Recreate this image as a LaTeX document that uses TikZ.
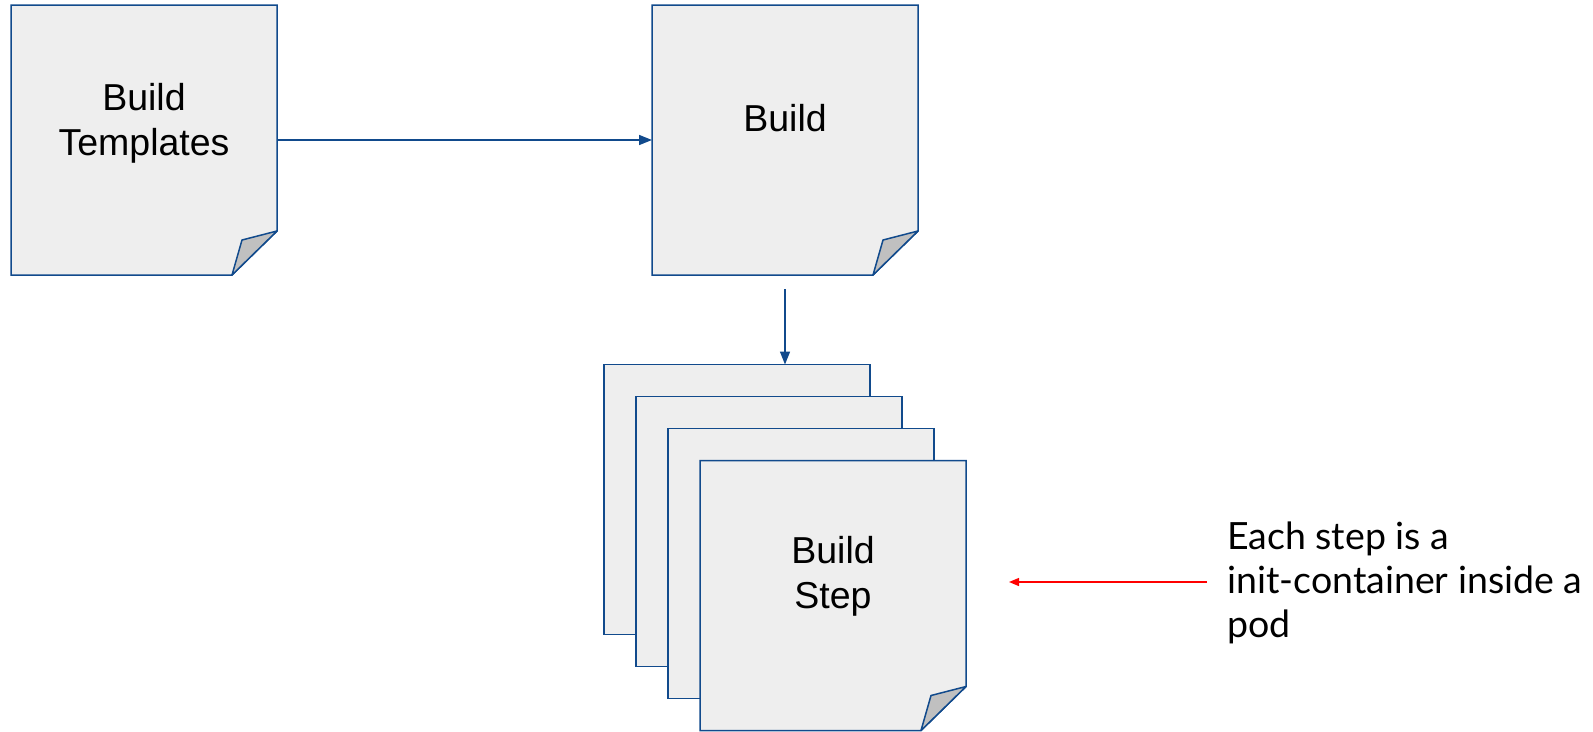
\documentclass[tikz,border=0pt]{standalone}
\usepackage{fontspec}
\setmainfont{Liberation Sans}
\newfontfamily\latofont{Lato}
\usetikzlibrary{arrows.meta,backgrounds,calc}
\definecolor{edgeblue}{RGB}{17,74,140}
\definecolor{paper}{RGB}{238,238,238}
\definecolor{foldgray}{RGB}{192,192,192}
\newcommand\dogear[1]{%
  \begin{pgfonlayer}{background}
  \path[outline] (#1.north west) -- (#1.north east) -- ([yshift=44pt]#1.south east) -- ([xshift=-45pt]#1.south east) -- (#1.south west) -- cycle;
  \path[foldst] ([yshift=44pt]#1.south east) -- ([xshift=-35pt,yshift=35pt]#1.south east) -- ([xshift=-45pt]#1.south east) -- cycle;
  \end{pgfonlayer}}
\newcommand\plainsheet[1]{%
  \begin{pgfonlayer}{background}
  \path[outline] (#1.north west) rectangle (#1.south east);
  \end{pgfonlayer}}
\begin{document}
\begin{tikzpicture}[x=1pt,y=-1pt,
  sheet/.style={minimum width=266pt, minimum height=270pt, inner sep=0pt, outer sep=0pt},
  lbl/.style={font=\fontsize{37.5}{45}\selectfont, align=center, text=black, inner sep=0pt},
  notestyle/.style={font=\latofont\fontsize{37.5}{44}\selectfont, align=left, text=black, inner sep=0pt},
  outline/.style={draw=edgeblue, line width=1.5pt, fill=paper, line join=miter},
  foldst/.style={draw=edgeblue, line width=1.5pt, fill=foldgray, line join=round},
  conn/.style={draw=edgeblue, line width=1.5pt, -{Triangle[length=13pt,width=10pt]}},
  redconn/.style={draw=red, line width=1.3pt, -{Triangle[length=10pt,width=8pt]}},
  ]
\useasboundingbox (0,0) rectangle (1593,731);
% sheets
\node[sheet] (bt) at (144,140) {};
\node[sheet] (bd) at (785,140) {};
\node[sheet] (s1) at (737,499.5) {};
\node[sheet] (s2) at (769,531.5) {};
\node[sheet] (s3) at (801,563.5) {};
\node[sheet] (s4) at (833,595.5) {};
\dogear{bt}
\dogear{bd}
\plainsheet{s1}
\plainsheet{s2}
\plainsheet{s3}
\dogear{s4}
% labels
\node[lbl] (btl) at ([yshift=17pt]bt.center) {Build\\Templates};
\node[lbl] (bdl) at ([yshift=21.5pt]bd.center) {Build};
\node[lbl] (s4l) at ([yshift=19.5pt]s4.center) {Build\\Step};
% note
\node[notestyle, anchor=west] (note) at (1227,583) {Each step is a\\init-container inside a\\pod};
% connectors
\draw[conn] (bt.east) -- (bd.west);
\coordinate (dstart) at ([yshift=-14pt]bd.south);
\draw[conn] (dstart) -- (dstart |- s1.north);
\coordinate (rstart) at (1207,582);
\coordinate (rend) at (1009,582);
\draw[redconn] (rstart) -- (rend);
\end{tikzpicture}
\end{document}
